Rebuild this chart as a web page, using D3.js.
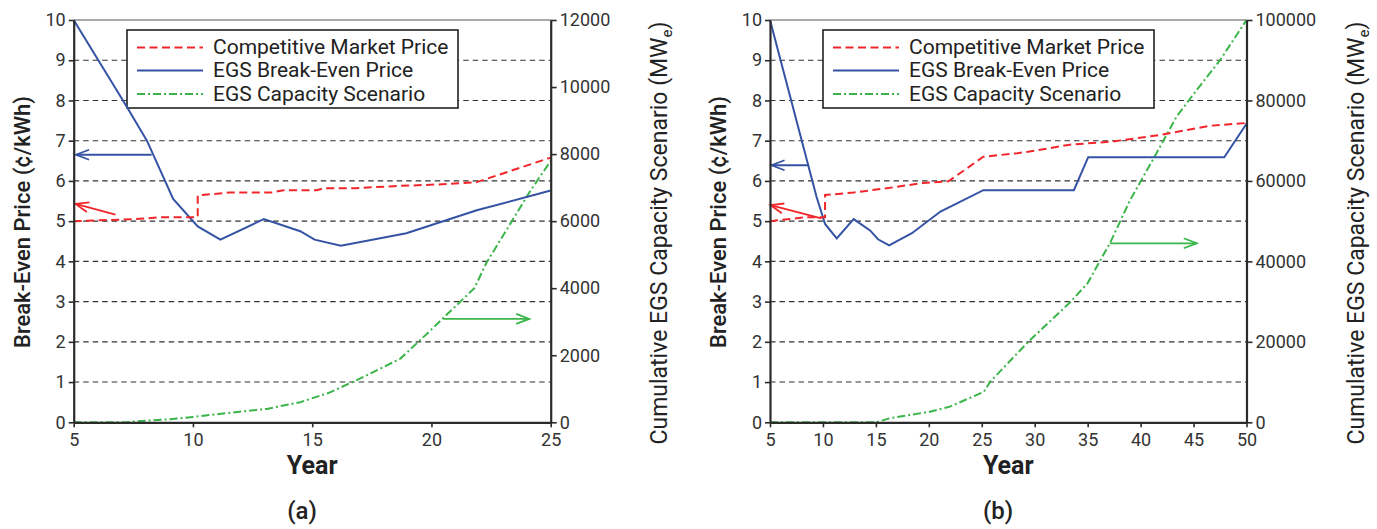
<!DOCTYPE html>
<html><head><meta charset="utf-8">
<script src="https://cdn.jsdelivr.net/npm/d3@7"></script>
<style>
html,body{margin:0;padding:0;background:#fff;}
svg{display:block;font-family:Roboto,"Open Sans",sans-serif;}
</style></head>
<body>
<svg id="chart" width="1377" height="529"></svg>
<script>
// ---------- DATA ----------
// Panel (a): years 5-25
const marketA = [[5,5.0],[7.6,5.05],[8.7,5.1],[10.2,5.1],[10.2,5.64],[11.5,5.71],[13.3,5.71],[13.8,5.77],[15.2,5.77],[15.5,5.82],[16.8,5.82],[18.4,5.87],[20.2,5.91],[21.9,5.97],[25,6.58]];
const breakEvenA = [[5,10.0],[7.2,7.87],[8.07,7.0],[9.17,5.55],[10.2,4.87],[11.15,4.54],[12.97,5.05],[14.5,4.75],[15.1,4.54],[16.2,4.39],[18.95,4.7],[21.9,5.27],[25,5.76]];
const capacityA = [[5,0],[7.2,0],[7.6,30],[9,90],[10,160],[11.1,250],[13.1,400],[14.5,600],[15.7,880],[17,1300],[18.7,1900],[19.9,2700],[20.7,3250],[21.8,4000],[22.3,4750],[24.1,6850],[25,7800]];
// Panel (b): years 5-50
const marketB = [[5,5.0],[8.5,5.1],[10.2,5.1],[10.2,5.65],[12.9,5.71],[16.6,5.84],[19.5,5.95],[21.85,5.99],[25.15,6.6],[28.4,6.69],[29.5,6.73],[33.3,6.9],[37.4,6.98],[42,7.15],[46.5,7.37],[50,7.44]];
const breakEvenB = [[5,10.0],[9.4,5.6],[10.2,4.93],[11.3,4.57],[12.9,5.05],[14.45,4.77],[15.2,4.55],[16.25,4.4],[18.4,4.7],[21.1,5.24],[25.15,5.77],[33.7,5.77],[35.05,6.59],[47.9,6.59],[50,7.42]];
const capacityB = [[5,0],[15,0],[16.3,1000],[20.1,2640],[22,3900],[25.2,7600],[25.8,10100],[29.5,20300],[33.3,29700],[35,34600],[36.2,40300],[37.1,44500],[39,55200],[41.5,66900],[43.4,76000],[45.3,82600],[47.5,90000],[50,100000]];

const xTicksA = [5,10,15,20,25];
const xTicksB = [5,10,15,20,25,30,35,40,45,50];
const yTicks = [0,1,2,3,4,5,6,7,8,9,10];
const gridVals = [1,2,3,4,5,6,7,8,9];
const y2TicksA = [0,2000,4000,6000,8000,10000,12000];
const y2TicksB = [0,20000,40000,60000,80000,100000];

const legendLabels = ["Competitive Market Price","EGS Break-Even Price","EGS Capacity Scenario"];
const xTitle = "Year";
const yTitle = "Break-Even Price (¢/kWh)";
const y2TitleMain = "Cumulative EGS Capacity Scenario (MW";
const panelLabels = ["(a)","(b)"];

// annotation arrows in data units: [xFrom, yFrom, xTo, yTo]
const arrowsA = {blue:[8.27,6.65,5.1,6.65], red:[6.75,5.16,5.08,5.43], green:[20.5,3084,24.1,3084]};
const arrowsB = {blue:[8.62,6.39,5.15,6.39], red:[9.85,5.07,5.05,5.4], green:[37.1,44500,45.3,44500]};

// ---------- DRAW ----------
const svg = d3.select("#chart");
const RED = "#f0262b", BLUE = "#3553a4", GREEN = "#3bb54a", AX = "#2b2b2b";

const panels = [
  {x0:73.7, x1:550.7, xdom:[5,25], xt:xTicksA, y2max:12000, y2t:y2TicksA, market:marketA, be:breakEvenA, cap:capacityA, arrows:arrowsA,
   leg:[127,458], ytitleX:22, y2titleX:659, label:panelLabels[0], labelX:302},
  {x0:770, x1:1246.5, xdom:[5,50], xt:xTicksB, y2max:100000, y2t:y2TicksB, market:marketB, be:breakEvenB, cap:capacityB, arrows:arrowsB,
   leg:[823,1154], ytitleX:718, y2titleX:1356, label:panelLabels[1], labelX:998}
];
const Y0 = 422.3, Y1 = 20;

panels.forEach(p => {
  const g = svg.append("g");
  const x = d3.scaleLinear().domain(p.xdom).range([p.x0, p.x1]);
  const y = d3.scaleLinear().domain([0,10]).range([Y0, Y1]);
  const y2 = d3.scaleLinear().domain([0,p.y2max]).range([Y0, Y1]);

  // gridlines
  g.append("g").selectAll("line").data(gridVals).join("line")
    .attr("x1", p.x0).attr("x2", p.x1)
    .attr("y1", d=>y(d)).attr("y2", d=>y(d))
    .attr("stroke","#333").attr("stroke-width",1.1).attr("stroke-dasharray","5.5,4");
  // top frame
  g.append("line").attr("x1",p.x0).attr("x2",p.x1).attr("y1",Y1).attr("y2",Y1)
    .attr("stroke","#555").attr("stroke-width",1.2);

  // legend box (white, covers grid)
  const lg = g.append("g");
  lg.append("rect").attr("x",p.leg[0]).attr("y",30).attr("width",p.leg[1]-p.leg[0]).attr("height",78)
    .attr("fill","#fff").attr("stroke","#222").attr("stroke-width",1.6);
  const legStyles = [
    {c:RED, d:"8,4.5", w:2},
    {c:BLUE, d:null, w:2.2},
    {c:GREEN, d:"8,3,2,3", w:2}
  ];
  const rowY = [47.5, 70.5, 94];
  legendLabels.forEach((t,i)=>{
    const l = lg.append("line").attr("x1",p.leg[0]+10).attr("x2",p.leg[0]+76)
      .attr("y1",rowY[i]).attr("y2",rowY[i]).attr("stroke",legStyles[i].c).attr("stroke-width",legStyles[i].w);
    if (legStyles[i].d) l.attr("stroke-dasharray",legStyles[i].d);
    lg.append("text").attr("x",p.leg[0]+86).attr("y",rowY[i]+6.5).attr("font-size",21).attr("fill","#222")
      .text(t);
  });

  // lines
  const line = d3.line().x(d=>x(d[0])).y(d=>y(d[1]));
  const line2 = d3.line().x(d=>x(d[0])).y(d=>y2(d[1]));
  g.append("path").datum(p.cap).attr("d",line2).attr("fill","none")
    .attr("stroke",GREEN).attr("stroke-width",2).attr("stroke-dasharray","8,3,2,3");
  g.append("path").datum(p.be).attr("d",line).attr("fill","none")
    .attr("stroke",BLUE).attr("stroke-width",2);
  g.append("path").datum(p.market).attr("d",line).attr("fill","none")
    .attr("stroke",RED).attr("stroke-width",2).attr("stroke-dasharray","8,4.5");

  // arrows
  function arrow(a, col, sc) {
    const xa = x(a[0]), ya = sc(a[1]), xb = x(a[2]), yb = sc(a[3]);
    const ang = Math.atan2(yb-ya, xb-xa);
    const L = 13, Wd = 5;
    const bx = xb - L*Math.cos(ang), by = yb - L*Math.sin(ang);
    const px = -Math.sin(ang)*Wd, py = Math.cos(ang)*Wd;
    g.append("line").attr("x1",xa).attr("y1",ya).attr("x2",xb).attr("y2",yb)
      .attr("stroke",col).attr("stroke-width",1.8);
    g.append("path").attr("d",`M${bx+px},${by+py}L${xb},${yb}L${bx-px},${by-py}`)
      .attr("fill","none").attr("stroke",col).attr("stroke-width",1.8);
  }
  arrow(p.arrows.blue, BLUE, y);
  arrow(p.arrows.red, RED, y);
  arrow(p.arrows.green, GREEN, y2);

  // axes
  const fs = 18;
  const ax = g.append("g").attr("transform",`translate(0,${Y0})`)
    .call(d3.axisBottom(x).tickValues(p.xt).tickSize(5).tickSizeOuter(0).tickFormat(d3.format("d")));
  const ay = g.append("g").attr("transform",`translate(${p.x0},0)`)
    .call(d3.axisLeft(y).tickValues(yTicks).tickSize(5).tickSizeOuter(0).tickFormat(d3.format("d")));
  const ay2 = g.append("g").attr("transform",`translate(${p.x1},0)`)
    .call(d3.axisRight(y2).tickValues(p.y2t).tickSize(6).tickSizeOuter(0).tickFormat(d3.format("d")));
  [ax,ay,ay2].forEach(a=>{
    a.selectAll(".domain").attr("stroke",AX).attr("stroke-width",2.2);
    a.selectAll(".tick line").attr("stroke",AX).attr("stroke-width",1.6);
    a.selectAll(".tick text").attr("font-size",fs).attr("font-family","Roboto, sans-serif").attr("fill","#333");
  });
  ax.selectAll(".tick text").attr("dy","0.9em");
  ay.selectAll(".tick text").attr("x",-8);
  ay2.selectAll(".tick text").attr("x",9);

  // titles
  g.append("text").attr("x",(p.x0+p.x1)/2).attr("y",474).attr("text-anchor","middle")
    .attr("font-size",25).attr("font-weight",700).attr("fill","#222").text(xTitle);
  g.append("text").attr("transform",`translate(${p.ytitleX+8},222) rotate(-90)`).attr("text-anchor","middle")
    .attr("font-size",22).attr("font-weight",500).attr("fill","#222").text(yTitle);
  const t2 = g.append("text").attr("transform",`translate(${p.y2titleX+8},233) rotate(-90)`).attr("text-anchor","middle")
    .attr("font-size",23).attr("font-weight",400).attr("fill","#222");
  t2.append("tspan").text(y2TitleMain);
  t2.append("tspan").attr("font-size",15).attr("dy",5).text("e");
  t2.append("tspan").attr("dy",-5).text(")");
  g.append("text").attr("x",p.labelX).attr("y",519).attr("text-anchor","middle")
    .attr("font-size",24).attr("font-weight",500).attr("fill","#222").text(p.label);
});
</script>
</body></html>
